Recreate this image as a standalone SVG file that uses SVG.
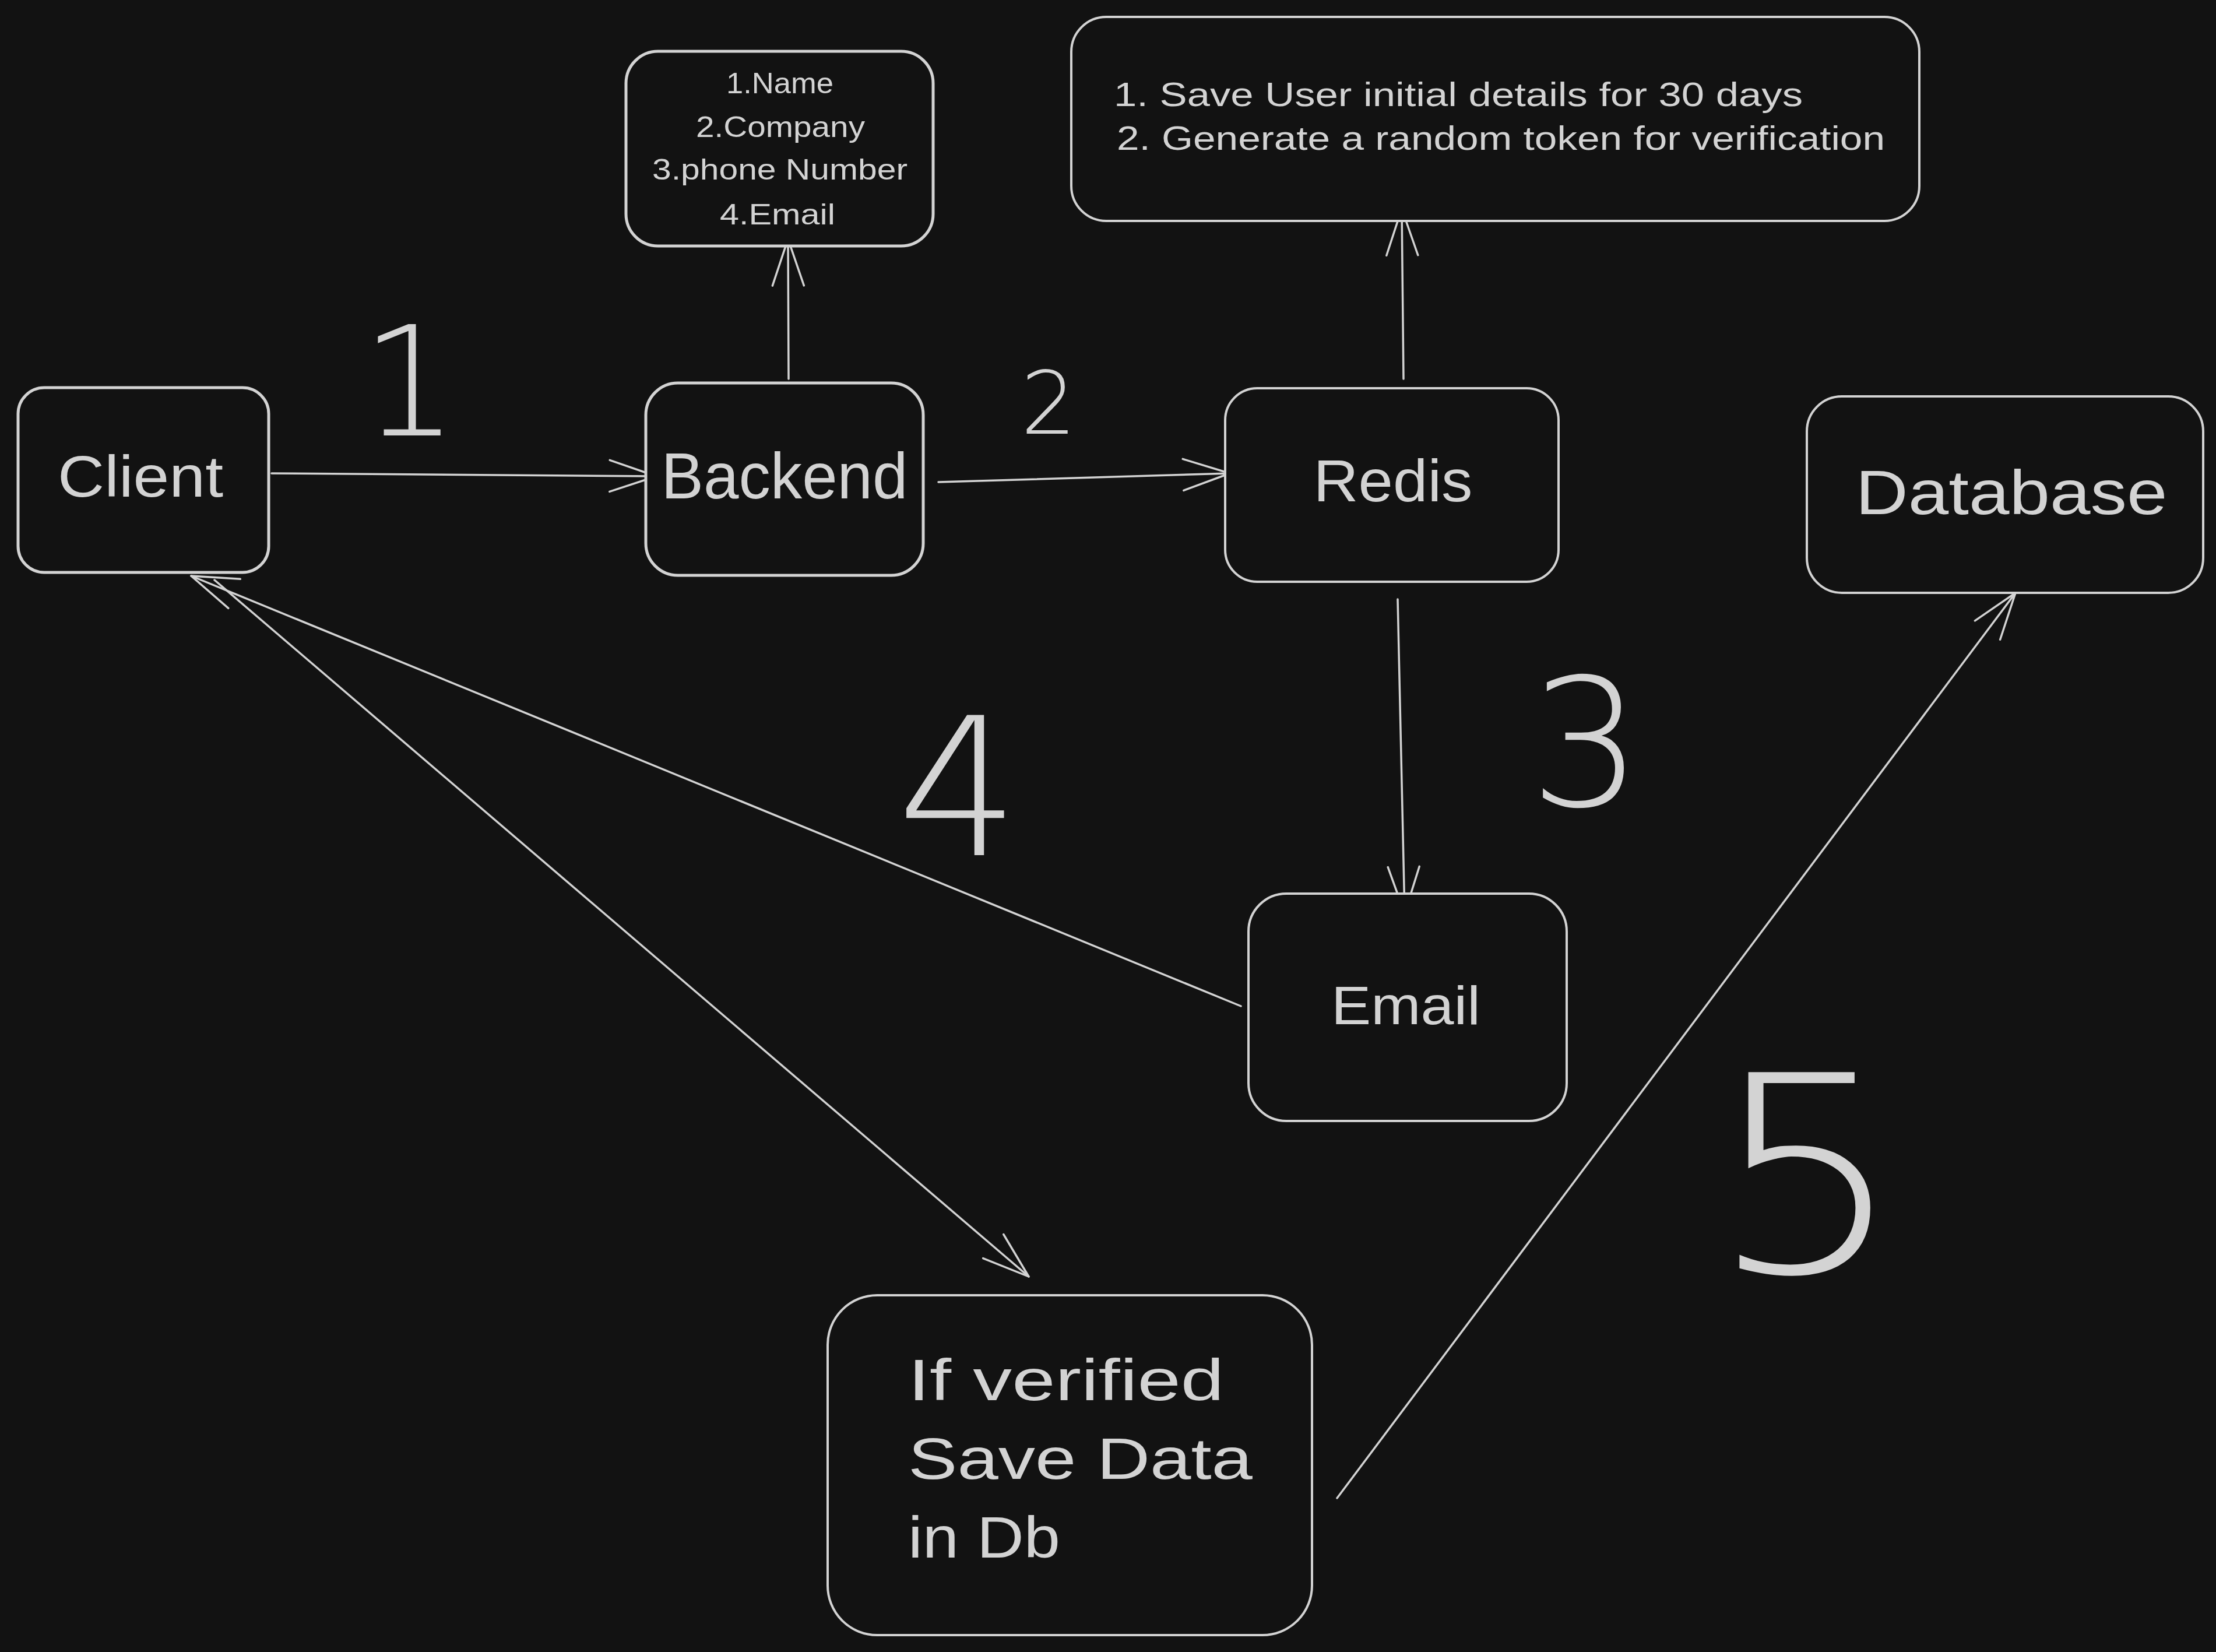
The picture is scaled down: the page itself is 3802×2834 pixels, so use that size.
<svg xmlns="http://www.w3.org/2000/svg" width="3802" height="2834" viewBox="0 0 3802 2834">
<style>
.box{fill:#121212;stroke:#d3d3d3;stroke-width:5}
.thin{stroke-width:4}
.lbl{font-family:"Liberation Sans","DejaVu Sans",sans-serif;fill:#d3d3d3}
.mid{text-anchor:middle}
.conn{fill:none;stroke:#d3d3d3;stroke-width:3.5;stroke-linecap:round}
.num{font-family:"DejaVu Sans","Liberation Sans",sans-serif;font-weight:200;fill:#d3d3d3;text-anchor:middle}
</style>
<defs>
<marker id="arr" markerUnits="userSpaceOnUse" markerWidth="90" markerHeight="60" viewBox="0 0 90 60" refX="85" refY="30" orient="auto">
<path d="M5,3 L85,30 L5,57" fill="none" stroke="#d3d3d3" stroke-width="3.5" stroke-linecap="round" stroke-linejoin="round"/>
</marker>
</defs>
<rect width="3802" height="2834" fill="#121212"/>

<g id="connectors">
<path class="conn" d="M466,812 L1126,817" marker-end="url(#arr)"/>
<path class="conn" d="M1610,827 L2110,812" marker-end="url(#arr)"/>
<path class="conn" d="M1353,650 L1352,410" marker-end="url(#arr)"/>
<path class="conn" d="M2408,650 L2405,358" marker-end="url(#arr)"/>
<path class="conn" d="M2398,1028 L2410,1567" marker-end="url(#arr)"/>
<path class="conn" d="M2129,1726 L328,988" marker-end="url(#arr)"/>
<path class="conn" d="M368,995 L1765,2190" marker-end="url(#arr)"/>
<path class="conn" d="M2294,2570 L3458,1017" marker-end="url(#arr)"/>
</g>

<g id="client">
<rect class="box" x="31" y="665" width="430" height="317" rx="45"/>
<text class="lbl mid" x="241" y="852" font-size="100" textLength="284" lengthAdjust="spacingAndGlyphs">Client</text>
</g>

<g id="backend">
<rect class="box" x="1108" y="657" width="476" height="330" rx="55"/>
<text class="lbl mid" x="1346" y="855" font-size="112" textLength="423" lengthAdjust="spacingAndGlyphs">Backend</text>
</g>

<g id="redis">
<rect class="box thin" x="2102" y="666" width="572" height="332" rx="55"/>
<text class="lbl mid" x="2390" y="860" font-size="102" textLength="273" lengthAdjust="spacingAndGlyphs">Redis</text>
</g>

<g id="database">
<rect class="box thin" x="3100" y="680" width="680" height="337" rx="60"/>
<text class="lbl mid" x="3451" y="882" font-size="108" textLength="535" lengthAdjust="spacingAndGlyphs">Database</text>
</g>

<g id="email">
<rect class="box thin" x="2142" y="1533" width="546" height="390" rx="65"/>
<text class="lbl mid" x="2412" y="1757" font-size="92" textLength="256" lengthAdjust="spacingAndGlyphs">Email</text>
</g>

<g id="fields">
<rect class="box" x="1074" y="88" width="527" height="334" rx="55"/>
<text class="lbl mid" x="1338" y="160" font-size="50" textLength="184" lengthAdjust="spacingAndGlyphs">1.Name</text>
<text class="lbl mid" x="1339" y="235" font-size="50" textLength="290" lengthAdjust="spacingAndGlyphs">2.Company</text>
<text class="lbl mid" x="1338" y="308" font-size="50" textLength="438" lengthAdjust="spacingAndGlyphs">3.phone Number</text>
<text class="lbl mid" x="1334" y="385" font-size="50" textLength="198" lengthAdjust="spacingAndGlyphs">4.Email</text>
</g>

<g id="redis-note">
<rect class="box thin" x="1838" y="29" width="1455" height="350" rx="60"/>
<text class="lbl" x="1911" y="182" font-size="58" textLength="1182" lengthAdjust="spacingAndGlyphs">1. Save User initial details for 30 days</text>
<text class="lbl" x="1916" y="257" font-size="58" textLength="1318" lengthAdjust="spacingAndGlyphs">2. Generate a random token for verification</text>
</g>

<g id="save-data">
<rect class="box thin" x="1420" y="2222" width="831" height="583" rx="85"/>
<text class="lbl" x="1558" y="2402" font-size="100" textLength="542" lengthAdjust="spacingAndGlyphs">If verified</text>
<text class="lbl" x="1558" y="2537" font-size="100" textLength="591" lengthAdjust="spacingAndGlyphs">Save Data</text>
<text class="lbl" x="1558" y="2672" font-size="100" textLength="261" lengthAdjust="spacingAndGlyphs">in Db</text>
</g>

<g id="step-numbers">
<text class="num" x="703" y="747" font-size="262">1</text>
<text class="num" x="1799" y="744" font-size="150">2</text>
<text class="num" x="2721" y="1382" font-size="305">3</text>
<text class="num" x="1644" y="1467" font-size="330">4</text>
<text class="num" x="3100" y="2182" font-size="470" textLength="335" lengthAdjust="spacingAndGlyphs">5</text>
</g>
</svg>
